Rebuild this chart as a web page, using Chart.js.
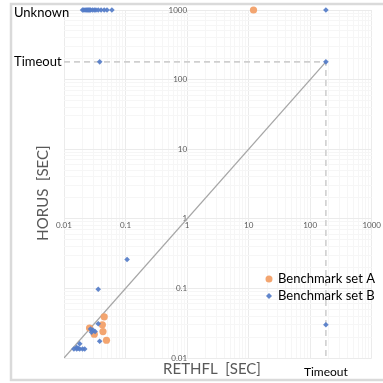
<!DOCTYPE html>
<html>
<head>
<meta charset="utf-8">
<script src="https://cdn.jsdelivr.net/npm/chart.js@4.4.1/dist/chart.umd.min.js"></script>
<style>
  html, body { margin: 0; padding: 0; background: #ffffff; }
  #wrap { position: relative; width: 383px; height: 383px; }
</style>
</head>
<body>
<div id="wrap"><canvas id="chart" width="383" height="383"></canvas></div>
<script>
  // log axis range and tick layout (decades + minor multipliers)
  const decades = [0.01, 0.1, 1, 10, 100, 1000];
  const minorSteps = [1, 2, 3, 4, 5, 6, 7, 8, 9];

  const TIMEOUT = 180;
  const UNKNOWN = 1000;

  // Benchmark set A (RETHFL sec, HORUS sec)
  const setAx = [12, 0.045, 0.042, 0.026, 0.043, 0.031, 0.049];
  const setAy = [UNKNOWN, 0.039, 0.030, 0.027, 0.024, 0.022, 0.018];

  // Benchmark set B
  const setBx = [
    0.020, 0.021, 0.022, 0.023, 0.024, 0.025, 0.026, 0.027, 0.029, 0.031, 0.033, 0.036, 0.040, 0.045, 0.050, 0.060,
    TIMEOUT, 0.038, TIMEOUT, TIMEOUT,
    0.106, 0.036, 0.036, 0.027, 0.0295, 0.032, 0.028, 0.038,
    0.018, 0.016, 0.0145, 0.0161, 0.018, 0.020, 0.0217, 0.017
  ];
  const setBy = [
    UNKNOWN, UNKNOWN, UNKNOWN, UNKNOWN, UNKNOWN, UNKNOWN, UNKNOWN, UNKNOWN, UNKNOWN, UNKNOWN, UNKNOWN, UNKNOWN, UNKNOWN, UNKNOWN, UNKNOWN, UNKNOWN,
    UNKNOWN, TIMEOUT, TIMEOUT, 0.030,
    0.26, 0.097, 0.031, 0.026, 0.0253, 0.024, 0.0234, 0.0174,
    0.016, 0.0142, 0.0135, 0.0135, 0.0135, 0.0135, 0.0135, 0.0138
  ];

  const diagX = [0.01, TIMEOUT];
  const timeoutX = [0.01, TIMEOUT, TIMEOUT];
  const timeoutY = [TIMEOUT, TIMEOUT, 0.01];

  const orange = "rgba(242,160,104,0.95)";
  const blue = "rgba(84,124,200,0.92)";
  const gray = "#595959";

  function pts(xs, ys) {
    return xs.map((x, i) => ({ x: x, y: ys[i] }));
  }

  const allTicks = [];
  decades.forEach((d, i) => {
    if (i === decades.length - 1) { allTicks.push(d); return; }
    minorSteps.forEach((m) => allTicks.push(Math.round(d * m * 1000) / 1000));
  });

  function isDecade(v) {
    return decades.some((d) => Math.abs(d - v) < 1e-9);
  }

  const overlay = {
    id: "overlay",
    beforeDraw(chart) {
      const ctx = chart.ctx;
      ctx.save();
      ctx.fillStyle = "#ffffff";
      ctx.fillRect(0, 0, chart.width, chart.height);
      ctx.strokeStyle = "#dadada";
      ctx.lineWidth = 2.5;
      ctx.strokeRect(11, 4, 380, 376);
      ctx.restore();
    },
    afterDraw(chart) {
      const ctx = chart.ctx;
      const xs = chart.scales.x;
      const ys = chart.scales.y;
      ctx.save();
      ctx.textBaseline = "middle";
      ctx.fillStyle = "#000000";
      ctx.font = "13px Lato, 'Open Sans', sans-serif";
      ctx.textAlign = "left";
      ctx.fillText("Unknown", 14, ys.getPixelForValue(UNKNOWN) + 3);
      ctx.fillText("Timeout", 14, ys.getPixelForValue(TIMEOUT));

      ctx.font = "12px Lato, 'Open Sans', sans-serif";
      ctx.textAlign = "center";
      ctx.fillText("Timeout", xs.getPixelForValue(TIMEOUT), 372);

      ctx.fillStyle = gray;
      ctx.font = "15px Lato, 'Open Sans', sans-serif";
      ctx.fillText("RETHFL  [SEC]", 212, 369);
      ctx.save();
      ctx.translate(43, 193);
      ctx.rotate(-Math.PI / 2);
      ctx.fillText("HORUS  [SEC]", 0, 0);
      ctx.restore();

      // legend
      ctx.font = "13px Lato, 'Open Sans', sans-serif";
      ctx.textAlign = "left";
      ctx.fillStyle = "#000000";
      ctx.fillText("Benchmark set A", 278, 279);
      ctx.fillText("Benchmark set B", 278, 296);
      ctx.fillStyle = orange;
      ctx.beginPath();
      ctx.arc(269, 279, 3.5, 0, Math.PI * 2);
      ctx.fill();
      ctx.fillStyle = blue;
      ctx.beginPath();
      ctx.moveTo(269, 293);
      ctx.lineTo(272, 296);
      ctx.lineTo(269, 299);
      ctx.lineTo(266, 296);
      ctx.closePath();
      ctx.fill();
      ctx.restore();
    }
  };

  const gridColor = (c) => (c.tick && isDecade(c.tick.value) ? "#ebebeb" : "#f6f6f6");
  const tickFont = { family: "Lato, 'Open Sans', sans-serif", size: 8 };

  new Chart(document.getElementById("chart"), {
    type: "scatter",
    data: {
      datasets: [
        {
          type: "line",
          label: "diag",
          data: pts(diagX, diagX),
          borderColor: "#a6a6a6",
          borderWidth: 1.3,
          pointRadius: 0,
          order: 3
        },
        {
          type: "line",
          label: "timeout",
          data: pts(timeoutX, timeoutY),
          borderColor: "#cfcfcf",
          borderWidth: 1.6,
          borderDash: [6, 4],
          pointRadius: 0,
          order: 4
        },
        {
          label: "Benchmark set A",
          data: pts(setAx, setAy),
          pointStyle: "circle",
          pointRadius: 3.6,
          backgroundColor: orange,
          borderWidth: 0,
          clip: false,
          order: 2
        },
        {
          label: "Benchmark set B",
          data: pts(setBx, setBy),
          pointStyle: "rectRot",
          pointRadius: 2.8,
          backgroundColor: blue,
          borderWidth: 0,
          clip: false,
          order: 1
        }
      ]
    },
    options: {
      responsive: false,
      animation: false,
      layout: { padding: { left: 64, top: 10, right: 9, bottom: 25 } },
      plugins: {
        legend: { display: false },
        tooltip: { enabled: false }
      },
      scales: {
        x: {
          type: "logarithmic",
          min: 0.01,
          max: 1000,
          position: { y: 1 },
          afterBuildTicks: (s) => { s.ticks = allTicks.map((v) => ({ value: v })); },
          ticks: {
            autoSkip: false,
            maxRotation: 0,
            color: gray,
            font: tickFont,
            padding: 2,
            callback: (v) => (isDecade(v) ? String(v) : "")
          },
          grid: { color: gridColor, drawTicks: false, lineWidth: 1 },
          border: { display: false }
        },
        y: {
          type: "logarithmic",
          min: 0.01,
          max: 1000,
          position: { x: 1 },
          afterBuildTicks: (s) => { s.ticks = allTicks.map((v) => ({ value: v })); },
          ticks: {
            autoSkip: false,
            color: gray,
            font: tickFont,
            padding: 2,
            callback: (v) => (isDecade(v) ? String(v) : "")
          },
          grid: { color: gridColor, drawTicks: false, lineWidth: 1 },
          border: { display: false }
        }
      }
    },
    plugins: [overlay]
  });
</script>
</body>
</html>
